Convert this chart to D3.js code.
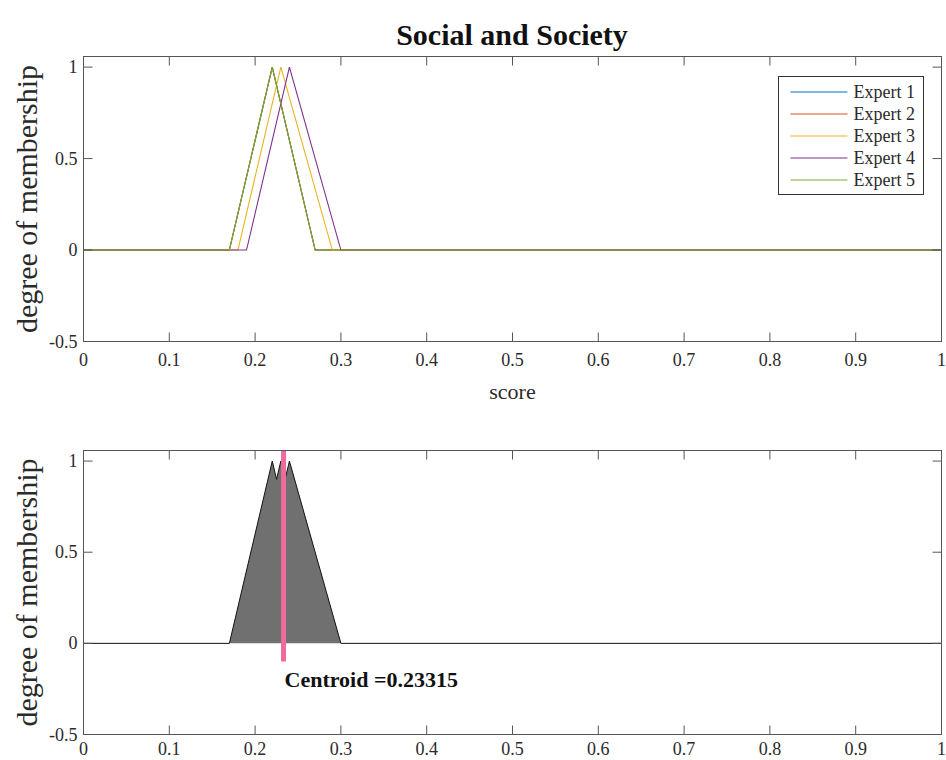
<!DOCTYPE html>
<html>
<head>
<meta charset="utf-8">
<script src="https://cdn.jsdelivr.net/npm/d3@7"></script>
<style>
  html, body { margin: 0; padding: 0; background: #fff; }
  svg { display: block; }
  text { font-family: "Liberation Serif", "Times New Roman", serif; }
</style>
</head>
<body>
<svg id="chart" width="946" height="760"></svg>
<script>
// Triangular membership functions given by each expert: [left foot, peak, right foot]
const experts = ["Expert 1", "Expert 2", "Expert 3", "Expert 4", "Expert 5"];
const expertTriangles = [
  [0.17, 0.22, 0.27],
  [0.17, 0.22, 0.27],
  [0.18, 0.23, 0.29],
  [0.19, 0.24, 0.30],
  [0.17, 0.22, 0.27]
];
const expertColors = ["#0072BD", "#D95319", "#EDB120", "#7E2F8E", "#77AC30"];

// Aggregated membership (upper envelope) as vertices [score, degree]
const aggScore  = [0, 0.17, 0.22, 0.225, 0.23, 0.2355, 0.24, 0.30, 1];
const aggDegree = [0, 0,    1,    0.90,  1,    0.91,   1,    0,    0];

const centroid = 0.23315;

const xTicks = [0, 0.1, 0.2, 0.3, 0.4, 0.5, 0.6, 0.7, 0.8, 0.9, 1];
const xTickLabels = ["0", "0.1", "0.2", "0.3", "0.4", "0.5", "0.6", "0.7", "0.8", "0.9", "1"];
const yTicks = [-0.5, 0, 0.5, 1];
const yTickLabels = ["-0.5", "0", "0.5", "1"];

const svg = d3.select("#chart");
const axisColor = "#555";
const labelColor = "#2a2a2a";

const x = d3.scaleLinear().domain([0, 1]).range([83.5, 941.5]);
const yDomain = [-0.5, 1.058];
const yTop = d3.scaleLinear().domain(yDomain).range([341.5, 56.5]);
const yBot = d3.scaleLinear().domain(yDomain).range([734.5, 450.5]);

function addClip(g, y, id) {
  const [x0, x1] = x.range();
  const [yb, yt] = y.range();
  g.append("clipPath").attr("id", id)
    .append("rect").attr("x", x0).attr("y", yt).attr("width", x1 - x0).attr("height", yb - yt);
}

function drawAxes(g, y, showXTitle, xLabelOffset) {
  const [x0, x1] = x.range();
  const [yb, yt] = y.range();
  const tl = 9;
  // ticks on all four sides, pointing inward
  const tk = g.append("g").attr("stroke", axisColor).attr("stroke-width", 1);
  xTicks.forEach(v => {
    tk.append("line").attr("x1", x(v)).attr("x2", x(v)).attr("y1", yb).attr("y2", yb - tl);
    tk.append("line").attr("x1", x(v)).attr("x2", x(v)).attr("y1", yt).attr("y2", yt + tl);
  });
  yTicks.forEach(v => {
    tk.append("line").attr("x1", x0).attr("x2", x0 + tl).attr("y1", y(v)).attr("y2", y(v));
    tk.append("line").attr("x1", x1).attr("x2", x1 - tl).attr("y1", y(v)).attr("y2", y(v));
  });
  g.append("rect").attr("x", x0).attr("y", yt).attr("width", x1 - x0).attr("height", yb - yt)
    .attr("fill", "none").attr("stroke", axisColor).attr("stroke-width", 1);

  g.selectAll(null).data(xTicks).enter().append("text")
    .attr("x", d => x(d)).attr("y", yb + xLabelOffset)
    .attr("text-anchor", "middle").attr("font-size", 18).attr("fill", labelColor)
    .text((d, i) => xTickLabels[i]);
  g.selectAll(null).data(yTicks).enter().append("text")
    .attr("x", x0 - 6).attr("y", d => y(d) + 6)
    .attr("text-anchor", "end").attr("font-size", 18).attr("fill", labelColor)
    .text((d, i) => yTickLabels[i]);

  g.append("text")
    .attr("transform", `translate(37,${(yb + yt) / 2}) rotate(-90)`)
    .attr("text-anchor", "middle").attr("font-size", 30).attr("fill", labelColor)
    .text("degree of membership");

  if (showXTitle) {
    g.append("text").attr("x", (x0 + x1) / 2).attr("y", yb + 57)
      .attr("text-anchor", "middle").attr("font-size", 22).attr("fill", labelColor)
      .text("score");
  }
}

// ---- Upper panel: individual expert memberships ----
const upper = svg.append("g");
addClip(upper, yTop, "clipTop");
const lineTop = d3.line().x(d => x(d[0])).y(d => yTop(d[1]));
const plotTop = upper.append("g").attr("clip-path", "url(#clipTop)");
expertTriangles.forEach((t, i) => {
  const pts = [[0, 0], [t[0], 0], [t[1], 1], [t[2], 0], [1, 0]];
  plotTop.append("path").attr("d", lineTop(pts))
    .attr("fill", "none").attr("stroke", expertColors[i]).attr("stroke-width", 1.1);
});
drawAxes(upper, yTop, true, 24);

svg.append("text").attr("x", 512).attr("y", 45)
  .attr("text-anchor", "middle").attr("font-size", 30).attr("font-weight", "bold")
  .attr("fill", "#111").text("Social and Society");

// legend
const lg = upper.append("g");
const lgX = 778.5, lgY = 76.5, lgW = 145, lgH = 118;
lg.append("rect").attr("x", lgX).attr("y", lgY).attr("width", lgW).attr("height", lgH)
  .attr("fill", "#fff").attr("stroke", "#333").attr("stroke-width", 1);
experts.forEach((name, i) => {
  const yy = lgY + 15.5 + i * 22;
  lg.append("line").attr("x1", lgX + 12).attr("x2", lgX + 69).attr("y1", yy).attr("y2", yy)
    .attr("stroke", expertColors[i]).attr("stroke-width", 1.1);
  lg.append("text").attr("x", lgX + 75).attr("y", yy + 6)
    .attr("font-size", 18).attr("fill", labelColor).text(name);
});

// ---- Lower panel: aggregated membership and centroid ----
const lower = svg.append("g");
addClip(lower, yBot, "clipBot");
const plotBot = lower.append("g").attr("clip-path", "url(#clipBot)");
const aggPts = aggScore.map((s, i) => [s, aggDegree[i]]);
const area = d3.area().x(d => x(d[0])).y0(yBot(0)).y1(d => yBot(d[1]));
plotBot.append("path").attr("d", area(aggPts)).attr("fill", "#707070").attr("stroke", "none");
const lineBot = d3.line().x(d => x(d[0])).y(d => yBot(d[1]));
plotBot.append("path").attr("d", lineBot(aggPts))
  .attr("fill", "none").attr("stroke", "#111").attr("stroke-width", 1);
plotBot.append("line")
  .attr("x1", x(centroid)).attr("x2", x(centroid))
  .attr("y1", yBot(-0.1)).attr("y2", yBot(yDomain[1]))
  .attr("stroke", "#ef6b9b").attr("stroke-width", 5);
drawAxes(lower, yBot, false, 20);

lower.append("text").attr("x", x(centroid) + 1).attr("y", yBot(-0.24))
  .attr("font-size", 22).attr("font-weight", "bold").attr("fill", "#111")
  .text("Centroid =" + centroid);
</script>
</body>
</html>
